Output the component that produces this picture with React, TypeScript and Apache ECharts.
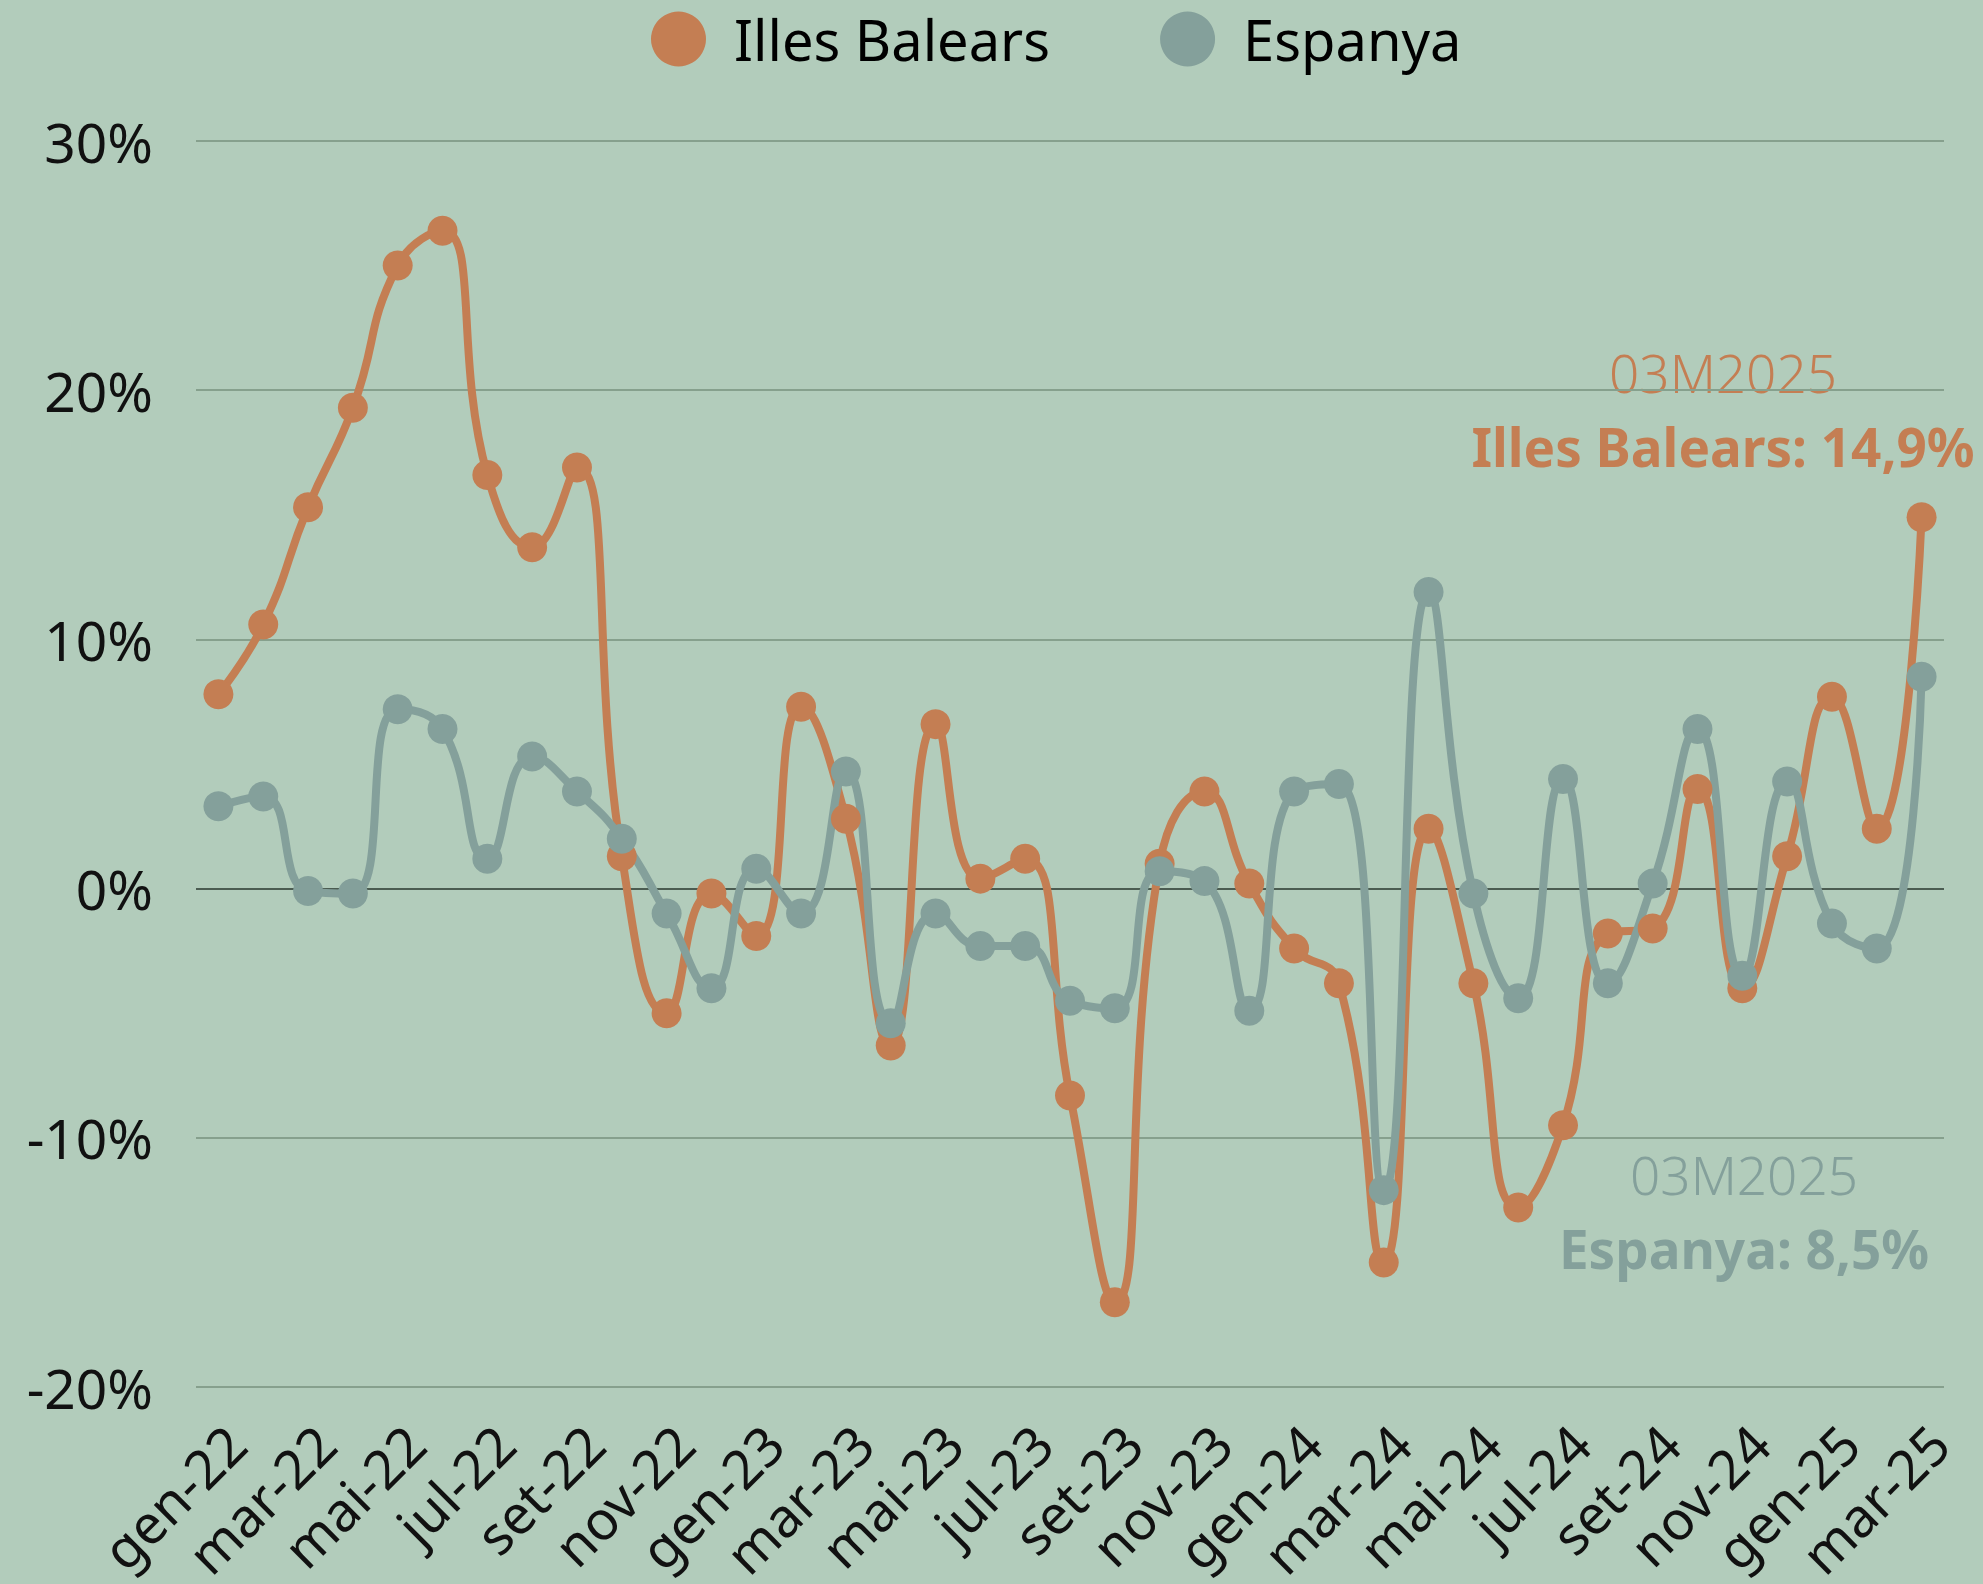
import React, { useEffect, useRef } from "react";
import * as echarts from "echarts";

const monthNames = ["gen", "feb", "mar", "abr", "mai", "jun", "jul", "ago", "set", "oct", "nov", "des"];
const years = ["22", "23", "24", "25"];
const lastMonthCount = 3; // 2025 up to mar

const categories: string[] = [];
years.forEach((y, yi) => {
  const n = yi === years.length - 1 ? lastMonthCount : 12;
  for (let m = 0; m < n; m++) categories.push(`${monthNames[m]}-${y}`);
});

const illesBalears = [
  7.8, 10.6, 15.3, 19.3, 25.0, 26.4, 16.6, 13.7, 16.9, 1.3, -5.0, -0.2,
  -1.9, 7.3, 2.8, -6.3, 6.6, 0.4, 1.2, -8.3, -16.6, 1.0, 3.9, 0.2,
  -2.4, -3.8, -15.0, 2.4, -3.8, -12.8, -9.5, -1.8, -1.6, 4.0, -4.0, 1.3,
  7.7, 2.4, 14.9,
];

const espanya = [
  3.3, 3.7, -0.1, -0.2, 7.2, 6.4, 1.2, 5.3, 3.9, 2.0, -1.0, -4.0,
  0.8, -1.0, 4.7, -5.4, -1.0, -2.3, -2.3, -4.5, -4.8, 0.7, 0.3, -4.9,
  3.9, 4.2, -12.1, 11.9, -0.2, -4.4, 4.4, -3.8, 0.2, 6.4, -3.5, 4.3,
  -1.4, -2.4, 8.5,
];

const seriesNames = ["Illes Balears", "Espanya"];
const periodLabel = "03M2025";
const yTicks = { min: -20, max: 30, interval: 10 };

const ORANGE = "#C47E53";
const GREY = "#84A09B";
const BG = "#B2CCBB";
const FONT = "'Noto Sans', sans-serif";

export default function App() {
  const ref = useRef<HTMLDivElement>(null);

  useEffect(() => {
    document.body.style.margin = "0";
    document.body.style.background = BG;
    if (!ref.current) return;
    const chart = echarts.init(ref.current, null, { renderer: "svg" });
    const lastIB = illesBalears[illesBalears.length - 1];
    const lastES = espanya[espanya.length - 1];
    const fmt = (v: number) => v.toFixed(1).replace(".", ",") + "%";

    chart.setOption({
      animation: false,
      backgroundColor: BG,
      textStyle: { fontFamily: FONT },
      legend: {
        left: 646,
        top: 6,
        icon: "circle",
        itemWidth: 55,
        itemHeight: 55,
        itemGap: 110,
        data: seriesNames,
        textStyle: {
          fontSize: 56,
          color: "#000",
          fontFamily: FONT,
          padding: [0, 0, 0, 23],
        },
      },
      grid: {
        left: 196,
        right: 39,
        top: 141,
        bottom: 197,
        containLabel: false,
        outerBoundsMode: "none",
      },
      xAxis: {
        type: "category",
        data: categories,
        boundaryGap: true,
        axisLine: { show: false },
        axisTick: { show: false },
        axisLabel: {
          interval: 1,
          rotate: 45,
          margin: 30,
          fontSize: 54,
          color: "#111",
          fontFamily: FONT,
          verticalAlign: "top",
          lineHeight: 49,
        },
        splitLine: { show: false },
      },
      yAxis: {
        type: "value",
        min: yTicks.min,
        max: yTicks.max,
        interval: yTicks.interval,
        axisLine: { show: false },
        axisTick: { show: false },
        axisLabel: {
          formatter: "{value}%",
          fontSize: 55,
          color: "#111",
          margin: 43,
          fontFamily: FONT,
        },
        splitLine: { lineStyle: { color: "#86A08D", width: 2 } },
      },
      series: [
        {
          name: seriesNames[0],
          type: "line",
          data: illesBalears,
          smooth: 0.5,
          symbol: "circle",
          symbolSize: 30,
          showAllSymbol: true,
          lineStyle: { color: ORANGE, width: 8 },
          itemStyle: { color: ORANGE },
          markLine: {
            silent: true,
            symbol: "none",
            label: { show: false },
            lineStyle: { color: "#4B5C51", width: 2, type: "solid" },
            data: [{ yAxis: 0 }],
            z: 1,
          },
        },
        {
          name: seriesNames[1],
          type: "line",
          data: espanya,
          smooth: 0.5,
          symbol: "circle",
          symbolSize: 30,
          showAllSymbol: true,
          lineStyle: { color: GREY, width: 8 },
          itemStyle: { color: GREY },
        },
      ],
      graphic: [
        {
          type: "text",
          x: 1723,
          y: 372,
          style: {
            text: periodLabel,
            fill: ORANGE,
            fontSize: 53,
            fontFamily: FONT,
            fontWeight: 300,
            textAlign: "center",
            textVerticalAlign: "middle",
          },
        },
        {
          type: "text",
          x: 1723,
          y: 446,
          style: {
            text: `${seriesNames[0]}: ${fmt(lastIB)}`,
            fill: ORANGE,
            fontSize: 53,
            fontFamily: FONT,
            fontWeight: "bold",
            textAlign: "center",
            textVerticalAlign: "middle",
          },
        },
        {
          type: "text",
          x: 1744,
          y: 1174,
          style: {
            text: periodLabel,
            fill: GREY,
            fontSize: 53,
            fontFamily: FONT,
            fontWeight: 300,
            textAlign: "center",
            textVerticalAlign: "middle",
          },
        },
        {
          type: "text",
          x: 1744,
          y: 1248,
          style: {
            text: `${seriesNames[1]}: ${fmt(lastES)}`,
            fill: GREY,
            fontSize: 53,
            fontFamily: FONT,
            fontWeight: "bold",
            textAlign: "center",
            textVerticalAlign: "middle",
          },
        },
      ],
    });
    return () => chart.dispose();
  }, []);

  return <div ref={ref} style={{ width: 1983, height: 1584 }} />;
}
